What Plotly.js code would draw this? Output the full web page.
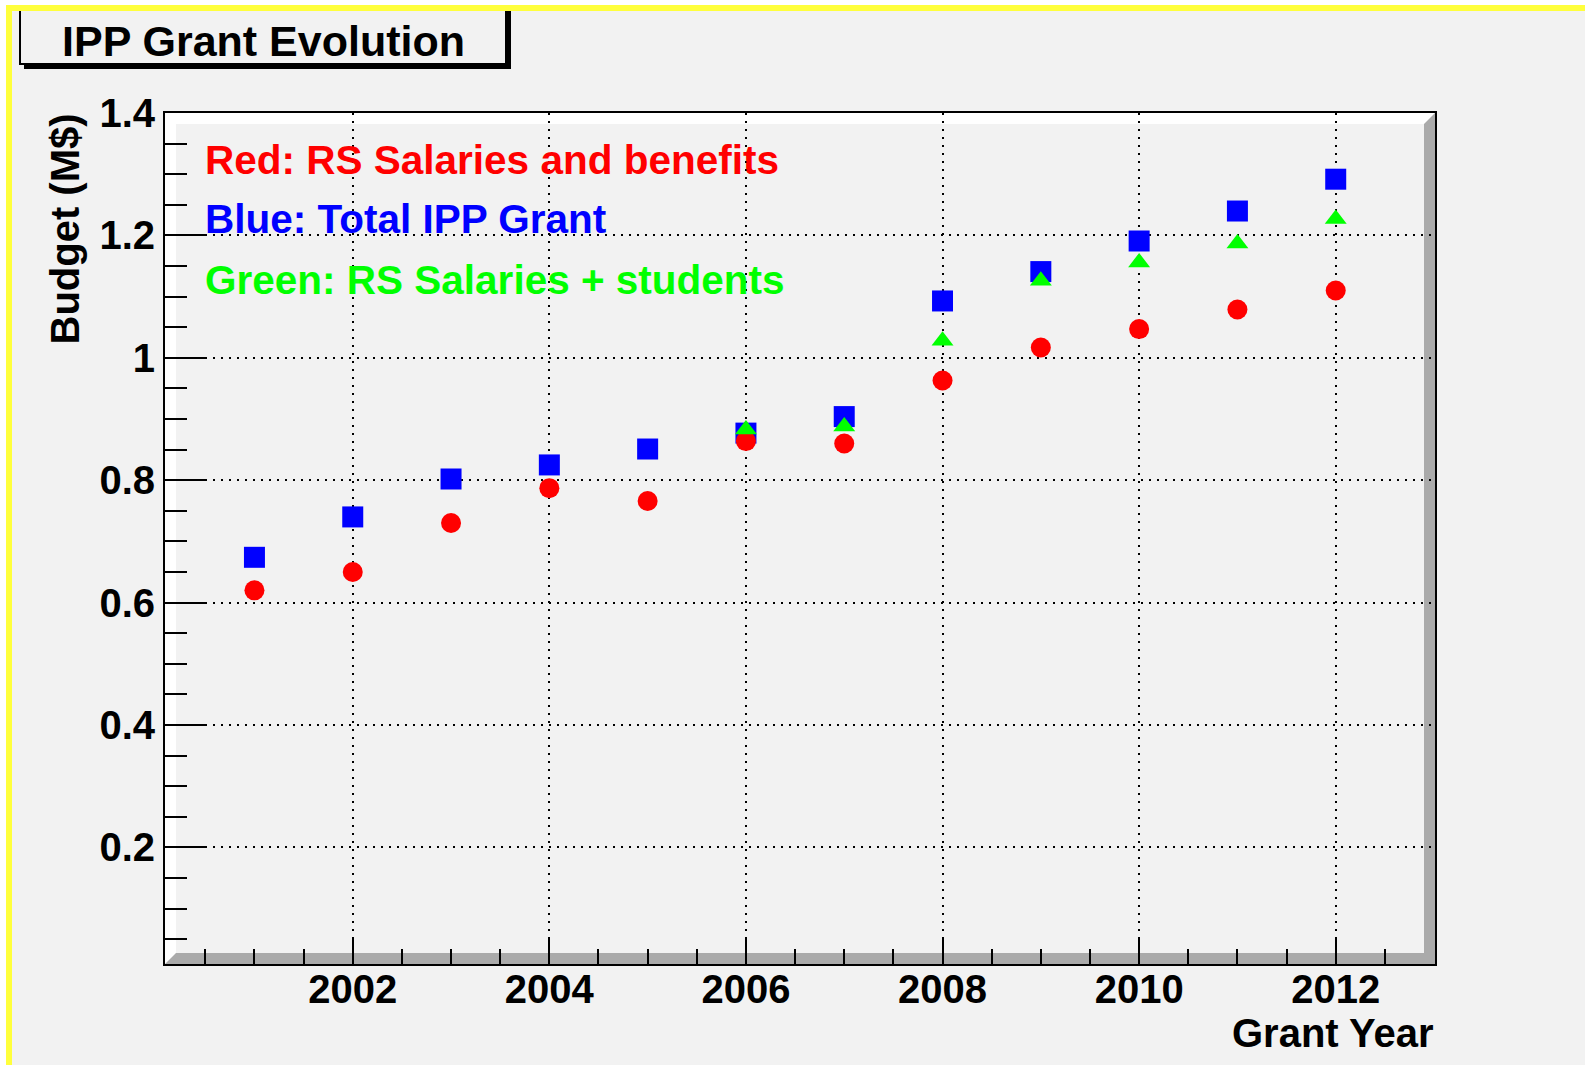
<!DOCTYPE html>
<html><head><meta charset="utf-8">
<script src="https://cdn.plot.ly/plotly-3.0.1.min.js"></script>
<style>html,body{margin:0;padding:0;background:#f2f2f2;overflow:hidden}#chart{width:1585px;height:1065px}</style>
</head><body><div id="chart"></div>
<script>
// ---- data ----
const years = [2001, 2002, 2003, 2004, 2005, 2006, 2007, 2008, 2009, 2010, 2011, 2012];
const totalGrant = [0.674, 0.740, 0.802, 0.825, 0.851, 0.877, 0.904, 1.093, 1.141, 1.191, 1.240, 1.292];
const salariesBenefits = [0.620, 0.650, 0.730, 0.787, 0.766, 0.864, 0.860, 0.963, 1.017, 1.047, 1.079, 1.110];
const greenYears = [2006, 2007, 2008, 2009, 2010, 2011, 2012];
const salariesStudents = [0.883, 0.888, 1.028, 1.126, 1.156, 1.187, 1.227];
const xTickVals = [2002, 2004, 2006, 2008, 2010, 2012];
const xTickText = ['2002', '2004', '2006', '2008', '2010', '2012'];
const yTickVals = [0.2, 0.4, 0.6, 0.8, 1.0, 1.2, 1.4];
const yTickText = ['0.2', '0.4', '0.6', '0.8', '1', '1.2', '1.4'];
const chartTitle = 'IPP Grant Evolution';
const xTitle = 'Grant Year';
const yTitle = 'Budget (M$)';
const noteLines = ['Red: RS Salaries and benefits', 'Blue: Total IPP Grant', 'Green: RS Salaries + students'];
const noteColors = ['#ff0000', '#0000ff', '#00ff00'];

// ---- layout geometry (pixels) ----
const W = 1585, H = 1065;
const L = 165, R = 1435, T = 113, B = 964;
const px = x => (x - L) / (R - L);
const py = y => (B - y) / (B - T);
const FONT = 'Liberation Sans, Arial, Helvetica, sans-serif';
const bev = 11;

function rect(x0, y0, x1, y1, fill, line) {
  return {type: 'rect', xref: 'paper', yref: 'paper', x0: px(x0), x1: px(x1), y0: py(y1), y1: py(y0),
    fillcolor: fill, line: line || {width: 0}, layer: 'below'};
}
function poly(pts, fill) {
  const d = pts.map((p, i) => (i ? 'L' : 'M') + px(p[0]) + ',' + py(p[1])).join(' ') + ' Z';
  return {type: 'path', xref: 'paper', yref: 'paper', path: d, fillcolor: fill, line: {width: 0}, layer: 'below'};
}

const shapes = [
  // frame bevel
  poly([[L, B], [L, T], [R, T], [R - bev, T + bev], [L + bev, T + bev], [L + bev, B - bev]], '#ffffff'),
  poly([[L, B], [R, B], [R, T], [R - bev, T + bev], [R - bev, B - bev], [L + bev, B - bev]], '#aaaaaa'),
  // title box + shadow
  rect(20, 2, 506, 64, '#f2f2f2', {color: '#000', width: 2}),
  rect(24, 63, 511, 69, '#000000'),
  rect(505, 6, 511, 69, '#000000'),
  // outer yellow border
  rect(6, 5, W, 11, '#ffff3c'),
  rect(6, 5, 12, H, '#ffff3c'),
  rect(0, 0, W, 5, '#ffffff'),
  rect(0, 0, 6, H, '#ffffff')
];

const annotations = [
  {text: chartTitle, xref: 'paper', yref: 'paper', x: px(263), y: py(41), xanchor: 'center', yanchor: 'middle',
    showarrow: false, font: {family: FONT, size: 43, color: '#000', weight: 'bold'}},
  {text: xTitle, xref: 'paper', yref: 'paper', x: px(1436), y: py(1033), xanchor: 'right', yanchor: 'middle',
    showarrow: false, font: {family: FONT, size: 40, color: '#000', weight: 'bold'}},
  {text: yTitle, xref: 'paper', yref: 'paper', x: px(64), y: py(111), xanchor: 'center', yanchor: 'top',
    textangle: -90, showarrow: false, font: {family: FONT, size: 40, color: '#000', weight: 'bold'}}
];
const noteY = [160, 219, 280];
noteLines.forEach((t, i) => annotations.push({
  text: t, xref: 'paper', yref: 'paper', x: px(203), y: py(noteY[i]), xanchor: 'left', yanchor: 'middle',
  showarrow: false, font: {family: FONT, size: 40.5, color: noteColors[i], weight: 'bold'}
}));

const traces = [
  {x: years, y: totalGrant, type: 'scatter', mode: 'markers', name: 'Total IPP Grant',
    marker: {symbol: 'square', size: 21, color: '#0000ff', line: {width: 0}}},
  {x: years, y: salariesBenefits, type: 'scatter', mode: 'markers', name: 'RS Salaries and benefits',
    marker: {symbol: 'circle', size: 20, color: '#ff0000', line: {width: 0}}},
  {x: greenYears, y: salariesStudents, type: 'scatter', mode: 'markers', name: 'RS Salaries + students',
    marker: {symbol: 'triangle-up', size: 19, color: '#00ff00', line: {width: 0}}}
];

const axisFont = {family: FONT, size: 40, color: '#000', weight: 'bold'};
const layout = {
  width: W, height: H,
  margin: {l: L, r: W - R, t: T, b: H - B, pad: 0},
  paper_bgcolor: '#f2f2f2', plot_bgcolor: 'rgba(0,0,0,0)',
  showlegend: false,
  xaxis: {
    range: [2000.09, 2013.01], tickvals: xTickVals, ticktext: xTickText,
    ticks: 'inside', ticklen: 26, tickwidth: 2, tickcolor: '#000',
    showline: true, mirror: true, linecolor: '#000', linewidth: 2,
    showgrid: true, gridcolor: '#000', gridwidth: 2, griddash: '2px,6px',
    zeroline: false, tickfont: axisFont, ticklabelstandoff: -11,
    minor: {dtick: 0.5, tick0: 2000, ticks: 'inside', ticklen: 15, tickwidth: 2, tickcolor: '#000', showgrid: false}
  },
  yaxis: {
    range: [0.0093, 1.4002], tickvals: yTickVals, ticktext: yTickText,
    ticks: 'inside', ticklen: 40, tickwidth: 2, tickcolor: '#000',
    showline: true, mirror: true, linecolor: '#000', linewidth: 2,
    showgrid: true, gridcolor: '#000', gridwidth: 2, griddash: '2px,6px',
    zeroline: false, tickfont: axisFont, ticklabelstandoff: 0,
    minor: {dtick: 0.05, tick0: 0, ticks: 'inside', ticklen: 22, tickwidth: 2, tickcolor: '#000', showgrid: false}
  },
  shapes: shapes,
  annotations: annotations
};

Plotly.newPlot('chart', traces, layout, {displayModeBar: false, staticPlot: true});
</script>
</body></html>
